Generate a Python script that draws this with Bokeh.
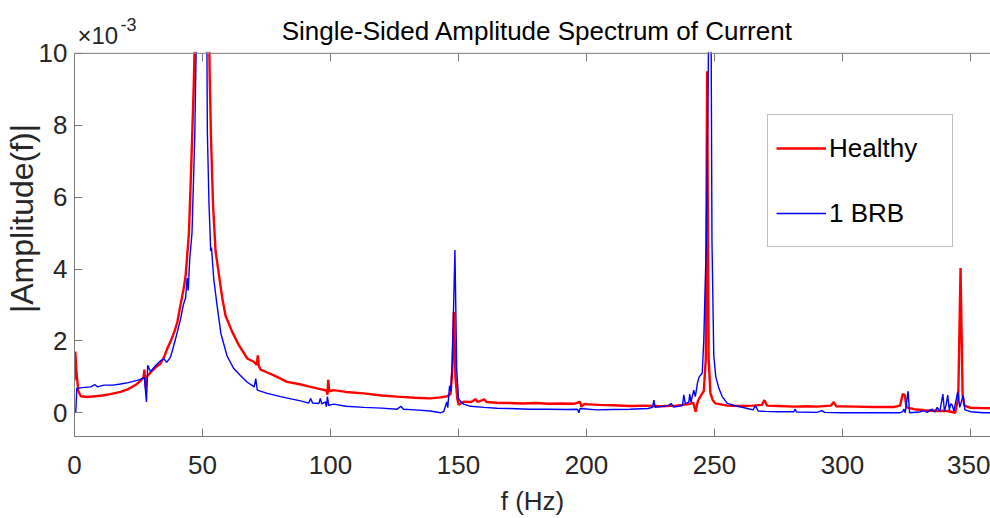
from bokeh.plotting import figure
from bokeh.models import (Range1d, FixedTicker, Label, Legend, LegendItem, ColumnDataSource,
                          Span, BoxAnnotation)
from bokeh.embed import file_html
from bokeh.resources import INLINE

# ---------------- data (amplitudes in units of 1e-3) ----------------
title_text = "Single-Sided Amplitude Spectrum of Current"
x_label = "f (Hz)"
y_label = "|Amplitude(f)|"
series_names = ["Healthy", "1 BRB"]
x_ticks = [0, 50, 100, 150, 200, 250, 300, 350]
y_ticks = [0, 2, 4, 6, 8, 10]
multiplier_base = "×10"
multiplier_exp = "-3"

# peaks at 50 Hz and 250 Hz run off the top of the axes (clipped at 10e-3)
healthy_points = [
    (0.0, 0.9), (0.3, 1.7), (0.8, 1.1), (1.5, 0.6), (2.5, 0.46), (5, 0.44), (8, 0.46),
    (11, 0.48), (14, 0.52), (18, 0.58), (21, 0.66), (24, 0.78), (26, 0.9), (27, 1.0),
    (27.3, 1.2), (27.6, 0.9), (27.9, 0.68), (28.3, 1.0), (29.7, 1.12), (31.5, 1.25),
    (33.6, 1.37), (35, 1.55), (36.2, 1.78), (37.5, 1.98), (39, 2.25), (40.2, 2.53),
    (41.4, 3.0), (42.6, 3.44), (43.4, 3.81), (44.7, 5.0), (45.6, 6.86), (46.6, 9.16),
    (47.2, 11.0), (49.8, 11.3), (52.5, 11.0), (52.8, 9.4), (53.3, 7.7), (54.1, 5.8),
    (55.1, 4.5), (56.3, 3.9), (57.7, 3.2), (59.0, 2.7), (61.6, 2.25), (64.2, 1.88),
    (67.5, 1.51), (70.0, 1.42), (71.2, 1.33), (71.6, 1.6), (72.0, 1.3), (72.7, 1.2),
    (75.3, 1.12), (77.9, 1.04), (80.5, 0.95), (83, 0.86), (87.6, 0.8), (92.2, 0.72),
    (96, 0.66), (98.4, 0.62), (98.8, 0.5), (99.1, 0.92), (99.5, 0.6), (101.3, 0.63),
    (106, 0.58), (113, 0.54), (120, 0.48), (126, 0.45), (133, 0.42), (139, 0.4),
    (143, 0.43), (145.6, 0.46), (146.9, 0.52), (147.6, 1.2), (148.2, 2.8), (148.8, 1.0),
    (149.5, 0.4), (150.1, 0.22), (152, 0.31), (155, 0.3), (156.7, 0.38), (157.5, 0.3),
    (160, 0.37), (161, 0.3), (165, 0.28), (170, 0.27), (175, 0.26), (180, 0.27),
    (185, 0.25), (190, 0.26), (195, 0.25), (197.5, 0.3), (198, 0.17), (199, 0.24),
    (205, 0.22), (210, 0.21), (217, 0.19), (223, 0.2), (229, 0.18), (235, 0.2),
    (240, 0.24), (241.7, 0.28), (242.6, 0.03), (243.4, 0.3), (244, 0.4), (245.8, 0.6),
    (246.6, 1.5), (247.1, 9.5), (247.7, 1.5), (248.4, 0.54), (249.3, 0.35), (250.4, 0.26),
    (255, 0.2), (260, 0.19), (265, 0.2), (268.5, 0.22), (269.5, 0.35), (270.5, 0.2),
    (275, 0.19), (281, 0.17), (286, 0.18), (290, 0.17), (295.5, 0.2), (296.6, 0.3),
    (297.5, 0.18), (305, 0.17), (312, 0.16), (320, 0.16), (322.5, 0.2), (323.5, 0.52),
    (324.3, 0.5), (325, 0.15), (328, 0.1), (332, 0.07), (337, 0.05), (341, 0.05),
    (344, 0.0), (345.2, 0.4), (346.1, 4.03), (346.9, 0.5), (347.6, 0.2), (350, 0.14),
    (355, 0.13), (358, 0.125),
]

brb_points = [
    (0.0, 0.0), (0.5, 0.02), (0.9, 0.68), (3, 0.7), (6.3, 0.72), (8, 0.78), (9, 0.72),
    (11.5, 0.77), (15, 0.77), (18, 0.8), (21, 0.84), (24.5, 0.9), (26.4, 0.95),
    (27.3, 0.98), (28.1, 0.3), (28.6, 1.32), (29.7, 1.14), (31.5, 1.3), (33.6, 1.45),
    (35, 1.5), (36, 1.4), (37.5, 1.55), (38.8, 1.88), (40, 2.2), (41.4, 2.6), (42.5, 3.0),
    (43.4, 3.2), (44.0, 3.75), (44.4, 3.4), (45.0, 4.27), (45.9, 5.0), (47.0, 7.76),
    (47.6, 10.5), (50.0, 11.3), (51.7, 10.5), (51.9, 7.8), (52.5, 5.9), (53.2, 4.5),
    (53.5, 4.6), (54.4, 3.72), (55.7, 2.98), (57.2, 2.2), (59.6, 1.58), (62.2, 1.23),
    (64.8, 1.04), (67.5, 0.85), (70.2, 0.72), (70.8, 0.95), (71.4, 0.63), (75.3, 0.54),
    (80.5, 0.45), (85, 0.38), (88.3, 0.33), (91.5, 0.27), (92.2, 0.4), (93, 0.27),
    (95.5, 0.26), (96, 0.4), (96.6, 0.25), (98, 0.3), (98.4, 0.17), (98.8, 0.45),
    (99.3, 0.2), (100, 0.22), (101.3, 0.24), (106, 0.18), (113, 0.15), (120, 0.13),
    (126, 0.1), (127.5, 0.18), (128.5, 0.1), (133, 0.08), (139, 0.05), (143, 0.0),
    (144.2, 0.03), (145.4, 0.3), (145.8, 0.14), (146.5, 0.75), (147.0, 0.6), (147.6, 1.5),
    (148.6, 4.53), (149.3, 1.2), (150.0, 0.4), (150.8, 0.31), (152, 0.24), (154.7, 0.18),
    (160, 0.15), (165, 0.125), (170, 0.12), (178, 0.1), (185, 0.1), (192, 0.09),
    (196.5, 0.1), (197, 0.0), (197.5, 0.12), (204, 0.08), (210, 0.09), (217, 0.1),
    (224, 0.12), (225.8, 0.15), (226.3, 0.35), (226.8, 0.15), (229, 0.17), (232, 0.2),
    (233, 0.26), (234, 0.16), (237.5, 0.2), (238, 0.5), (238.6, 0.25), (240, 0.3),
    (240.3, 0.52), (240.8, 0.3), (241.9, 0.63), (242.5, 0.45), (243.4, 0.85), (244, 1.0),
    (245.2, 1.1), (245.8, 2.0), (246.8, 4.8), (247.4, 8.5), (247.8, 11.2), (248.2, 11.3),
    (248.7, 10.0), (249.0, 4.8), (249.7, 1.6), (250.5, 1.0), (251.7, 0.68), (253, 0.45),
    (255, 0.26), (258, 0.2), (262.8, 0.12), (265, 0.08), (266, 0.2), (267, 0.05),
    (270, 0.04), (275, 0.03), (281, 0.03), (281.5, 0.1), (282, 0.02), (290, 0.01),
    (292, 0.06), (293, 0.01), (300, 0.0), (315, 0.0), (322.4, 0.0), (323.5, 0.03),
    (324, 0.1), (324.5, 0.0), (325.6, 0.6), (326.2, 0.0), (330, 0.02), (332, 0.06),
    (333, 0.01), (335, 0.1), (336, 0.02), (337, 0.15), (338, 0.03), (339.2, 0.52),
    (339.8, 0.05), (340.4, 0.2), (341.1, 0.49), (341.7, 0.08), (342.3, 0.25),
    (342.8, 0.22), (343.5, 0.05), (345, 0.59), (345.8, 0.15), (347.1, 0.49),
    (347.8, 0.08), (350, 0.03), (355, 0.0), (358, 0.0),
]

# ---------------- styling ----------------
FONT = "Liberation Sans"
AXIS_COLOR = "#7a7a7a"
TEXT_COLOR = "#262626"
Y_MIN, Y_MAX = -0.66, 10.0      # visible axis extent
Y_TOP = 11.47                    # frame top (room above the axes for title and multiplier)
TOP_TICK_LEN = 0.22              # inward tick length on the top border, in y units

healthy_src = ColumnDataSource(dict(f=[a for a, b in healthy_points], amp=[b for a, b in healthy_points]))
brb_src = ColumnDataSource(dict(f=[a for a, b in brb_points], amp=[b for a, b in brb_points]))

p = figure(width=990, height=518, output_backend="svg", toolbar_location=None,
           x_range=Range1d(0, 357.8), y_range=Range1d(Y_MIN, Y_TOP),
           min_border_left=74, min_border_right=0, min_border_top=0, min_border_bottom=81,
           x_axis_label=x_label, y_axis_label=y_label)
p.outline_line_color = None
p.grid.visible = False
p.background_fill_color = "white"
p.border_fill_color = "white"

for ax, ticks in ((p.xaxis[0], x_ticks), (p.yaxis[0], y_ticks)):
    ax.ticker = FixedTicker(ticks=ticks)
    ax.minor_tick_line_color = None
    ax.major_tick_in = 8
    ax.major_tick_out = 0
    ax.axis_line_color = AXIS_COLOR
    ax.major_tick_line_color = AXIS_COLOR
    ax.major_label_text_font = FONT
    ax.major_label_text_font_size = "26px"
    ax.major_label_text_color = TEXT_COLOR
    ax.axis_label_text_font = FONT
    ax.axis_label_text_font_style = "normal"
    ax.axis_label_text_color = TEXT_COLOR

p.yaxis.bounds = (Y_MIN, Y_MAX)
p.xaxis.major_label_standoff = 19
p.xaxis.axis_label_text_font_size = "26px"
p.xaxis.axis_label_standoff = 9
p.yaxis.major_label_standoff = 7
p.yaxis.axis_label_text_font_size = "32px"
p.yaxis.axis_label_standoff = -4

# top border ticks (pointing inward)
p.segment(x0=x_ticks, y0=[Y_MAX] * len(x_ticks), x1=x_ticks,
          y1=[Y_MAX - TOP_TICK_LEN] * len(x_ticks), line_color=AXIS_COLOR, line_width=1)

r_healthy = p.line("f", "amp", source=healthy_src, line_color="#ff0000", line_width=2.4)
r_brb = p.line("f", "amp", source=brb_src, line_color="#0000ff", line_width=1.4)

# everything above the axes box is blank page: mask the clipped peaks
p.add_layout(BoxAnnotation(bottom=Y_MAX + 0.045, fill_color="white", fill_alpha=1.0,
                           line_color="white", line_width=3))
p.add_layout(Span(location=Y_MAX, dimension="width", line_color=AXIS_COLOR, line_width=1))

# title and exponent, placed in screen pixels from the frame's bottom-left corner
p.add_layout(Label(x=463, y=406, x_units="screen", y_units="screen", text=title_text,
                   text_font=FONT, text_font_size="26px", text_color="black",
                   text_align="center", text_baseline="alphabetic", level="overlay"))
p.add_layout(Label(x=3, y=401, x_units="screen", y_units="screen", text=multiplier_base,
                   text_font=FONT, text_font_size="24px", text_color=TEXT_COLOR,
                   text_baseline="alphabetic", level="overlay"))
p.add_layout(Label(x=46, y=412, x_units="screen", y_units="screen", text=multiplier_exp,
                   text_font=FONT, text_font_size="18px", text_color=TEXT_COLOR,
                   text_baseline="alphabetic", level="overlay"))

legend = Legend(items=[LegendItem(label=series_names[0], renderers=[r_healthy]),
                       LegendItem(label=series_names[1], renderers=[r_brb])],
                location=(693, 189), orientation="vertical",
                label_text_font=FONT, label_text_font_size="26px", label_text_color="black",
                glyph_width=50, glyph_height=50, label_height=50, label_width=115,
                label_standoff=3, spacing=15, padding=8, margin=0,
                border_line_color="#7f7f7f", border_line_width=1,
                background_fill_color="white", background_fill_alpha=1.0)
p.add_layout(legend)

open("out.html", "w").write(file_html(p, INLINE))
